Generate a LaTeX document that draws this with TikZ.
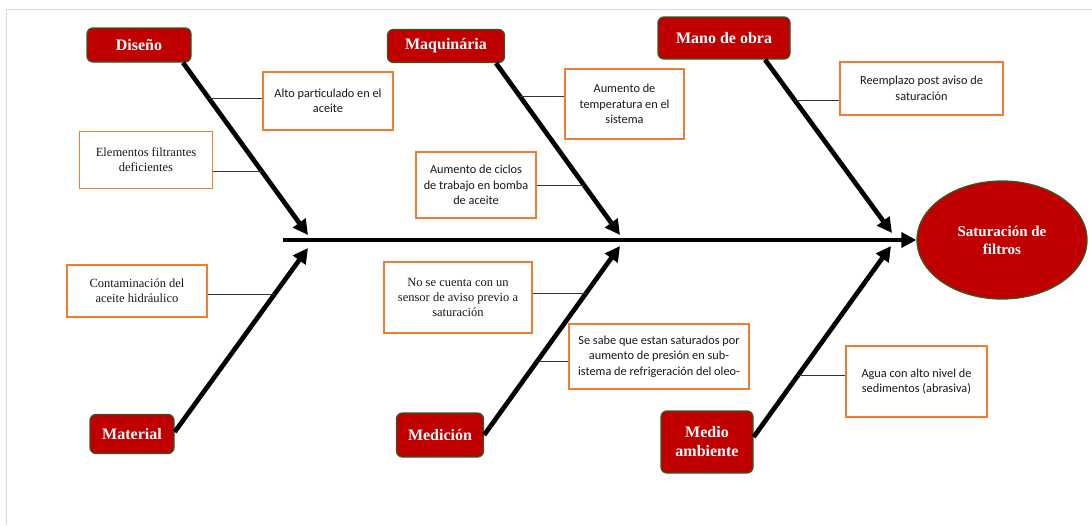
\documentclass[tikz,border=0pt]{standalone}
\usepackage{fontspec}
\setmainfont{Liberation Serif}
\newfontfamily\causesf{Carlito}
\usetikzlibrary{shapes,positioning,calc}
\usetikzlibrary{arrows.meta}

\definecolor{boxred}{HTML}{C00000}
\definecolor{boxgreen}{HTML}{385723}
\definecolor{causeorange}{HTML}{ED7D31}

\tikzset{
  categ/.style={draw=boxgreen,line width=1.3pt,fill=boxred,rounded corners=6pt,
     text=white,font=\bfseries\fontsize{16}{19}\selectfont,align=center,inner sep=0pt},
  effect/.style={ellipse,draw=boxgreen,line width=1.3pt,fill=boxred,text=white,
     font=\bfseries\fontsize{15}{18}\selectfont,align=center,inner sep=0pt},
  causebox/.style={draw=causeorange,line width=1.3pt,fill=white,text=black!90,
     align=center,inner sep=0pt},
  serifcause/.style={causebox,font=\fontsize{12.5}{15}\selectfont},
  sanscause/.style={causebox,font=\causesf\fontsize{12.3}{15.5}\selectfont},
  bone/.style={line width=4.7pt,-{Triangle[length=15pt,width=15pt]}},
  twig/.style={line width=0.8pt,black!80},
  pageedge/.style={line width=0.6pt,black!15}
}

\begin{document}
\begin{tikzpicture}[x=1pt,y=-1pt]

\useasboundingbox (0,0) rectangle (1092,525);
\draw[pageedge] (6,525) -- (6,9) -- (1092,9);

% categorias
\node[categ,minimum width=104pt,minimum height=34pt] (dis) at (139,45)  {Diseño};
\node[categ,minimum width=117pt,minimum height=33pt] (maq) at (446,46)  {Maquinária};
\node[categ,minimum width=132pt,minimum height=42pt] (mob) at (724,38)  {Mano de obra};
\node[categ,minimum width=84pt, minimum height=39pt] (mat) at (132,434) {Material};
\node[categ,minimum width=87pt, minimum height=44pt] (med) at (440,435) {Medición};
\node[categ,minimum width=92pt, minimum height=62pt] (amb) at (707,442) {Medio\\ambiente};

% efecto
\node[effect,minimum width=170pt,minimum height=118pt] (sat) at (1002,240) {Saturación de\\filtros};

% causas
\node[sanscause, minimum width=130pt,minimum height=58pt] (alt) at (328,101)   {Alto particulado en el\\aceite};
\node[serifcause,minimum width=133pt,minimum height=57pt] (ele) at (146,160)   {Elementos filtrantes\\deficientes};
\node[sanscause, minimum width=119pt,minimum height=70pt] (tem) at (624.5,104) {Aumento de\\temperatura en el\\sistema};
\node[sanscause, minimum width=120pt,minimum height=66pt] (cic) at (476,185)   {Aumento de ciclos\\de trabajo en bomba\\de aceite};
\node[sanscause, minimum width=163pt,minimum height=53pt] (ree) at (921.5,88.5){Reemplazo post aviso de\\saturación};
\node[serifcause,minimum width=140pt,minimum height=52pt] (con) at (137,291)   {Contaminación del\\aceite hidráulico};
\node[serifcause,minimum width=148pt,minimum height=71pt] (sen) at (458,297.5) {No se cuenta con un\\sensor de aviso previo a\\saturación};
\node[sanscause, minimum width=180pt,minimum height=65pt] (pre) at (659,356.5) {Se sabe que estan saturados por\\aumento de presión en sub-\\istema de refrigeración del oleo-};
\node[sanscause, minimum width=141pt,minimum height=71pt] (agu) at (916.5,381.5){Agua con alto nivel de\\sedimentos (abrasiva)};

% espina
\coordinate (s0) at (283,240);
\draw[bone] (s0) -- (sat.west);

\coordinate (b1s) at ($(dis.south)+(44,0)$);  \coordinate (b1e) at (308,235);
\coordinate (b2s) at ($(maq.south)+(50,0)$);  \coordinate (b2e) at (620,235);
\coordinate (b3s) at ($(mob.south)+(41,0)$);  \coordinate (b3e) at (892,233);
\coordinate (b4s) at ($(mat.east)+(0,-2)$);   \coordinate (b4e) at (308,248);
\coordinate (b5s) at (med.east);              \coordinate (b5e) at (620,246);
\coordinate (b6s) at ($(amb.east)+(0,-5)$);   \coordinate (b6e) at (891,246);

\foreach \x in {1,...,6}{\draw[bone] (b\x s) -- (b\x e);}

% lineas de causa
\foreach \c/\s/\b/\t in {alt/west/1/0.208, ele/east/1/0.63,
                         tem/west/2/0.194, cic/east/2/0.71,
                         ree/west/3/0.236, con/east/4/0.75,
                         sen/east/5/0.751, pre/west/5/0.392,
                         agu/west/6/0.325}
  {\coordinate (j\c) at ($(b\b s)!\t!(b\b e)$);
   \draw[twig] (j\c) -- (j\c -| \c.\s);}

\end{tikzpicture}
\end{document}
